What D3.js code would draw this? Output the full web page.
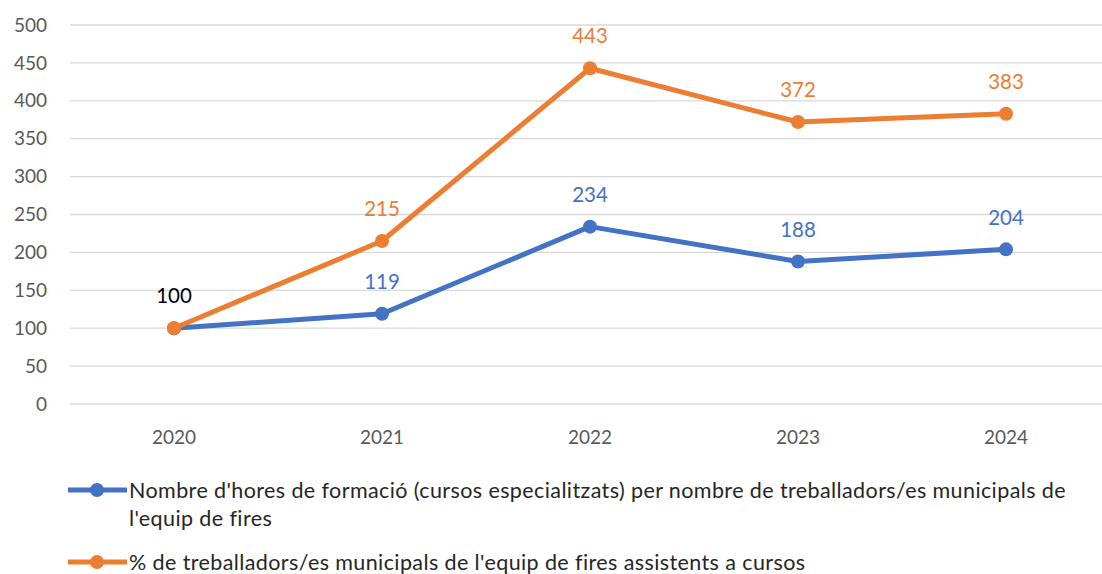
<!DOCTYPE html>
<html>
<head>
<meta charset="utf-8">
<script src="https://cdn.jsdelivr.net/npm/d3@7"></script>
<style>
  body { margin: 0; background: #fff; }
  svg { display: block; font-family: Lato, "Noto Sans", sans-serif; }
</style>
</head>
<body>
<div class="plot"></div>
<script>
var years = ['2020', '2021', '2022', '2023', '2024'];
var hores = [100, 119, 234, 188, 204];
var treballadors = [100, 215, 443, 372, 383];
var yTicks = [0, 50, 100, 150, 200, 250, 300, 350, 400, 450, 500];
var names = [
    "Nombre d'hores de formació (cursos especialitzats) per nombre de treballadors/es municipals de",
    "l'equip de fires"
];
var name2 = "% de treballadors/es municipals de l'equip de fires assistents a cursos";

var W = 1102, H = 574;
var blue = '#4472C4', orange = '#ED7D31';

var svg = d3.select('.plot').append('svg')
    .attr('width', W)
    .attr('height', H);

var x = d3.scaleBand().domain(years).range([70, 1110]);
var y = d3.scaleLinear().domain([0, 500]).range([404, 25]);

// gridlines
svg.append('g')
    .selectAll('line')
    .data(yTicks)
    .enter()
    .append('line')
    .attr('x1', 70)
    .attr('x2', 1110)
    .attr('y1', function(d){return y(d)})
    .attr('y2', function(d){return y(d)})
    .attr('stroke', '#d9d9d9')
    .attr('stroke-width', 1.3);

// y labels
svg.append('g')
    .selectAll('text')
    .data(yTicks)
    .enter()
    .append('text')
    .attr('x', 47)
    .attr('y', function(d){return y(d)})
    .attr('dy', '0.35em')
    .attr('text-anchor', 'end')
    .attr('fill', '#595959')
    .style('font-size', '19px')
    .text(function(d){return d});

// x labels
svg.append('g')
    .selectAll('text')
    .data(years)
    .enter()
    .append('text')
    .attr('x', function(d){return x(d) + x.bandwidth()/2})
    .attr('y', 437)
    .attr('dy', '0.35em')
    .attr('text-anchor', 'middle')
    .attr('fill', '#595959')
    .style('font-size', '19px')
    .text(function(d){return d});

var line = d3.line()
    .x(function(d,i){return x(years[i]) + x.bandwidth()/2})
    .y(function(d){return y(d)});

function drawSeries(vals, color, labelColors){
    var g = svg.append('g');
    g.append('path')
        .datum(vals)
        .attr('d', line)
        .attr('fill', 'none')
        .attr('stroke', color)
        .attr('stroke-width', 5)
        .attr('stroke-linejoin', 'round');
    g.selectAll('circle')
        .data(vals)
        .enter()
        .append('circle')
        .attr('cx', function(d,i){return x(years[i]) + x.bandwidth()/2})
        .attr('cy', function(d){return y(d)})
        .attr('r', 7)
        .attr('fill', color);
    g.selectAll('text')
        .data(vals)
        .enter()
        .append('text')
        .attr('x', function(d,i){return x(years[i]) + x.bandwidth()/2})
        .attr('y', function(d){return y(d) - 32})
        .attr('dy', '0.35em')
        .attr('text-anchor', 'middle')
        .attr('fill', function(d,i){return labelColors[i]})
        .style('font-size', '20.5px')
        .text(function(d){return d});
}

drawSeries(hores, blue, ['none', blue, blue, blue, blue]);
drawSeries(treballadors, orange, ['#000', orange, orange, orange, orange]);

// legend
function legendKey(cy, color){
    svg.append('line')
        .attr('x1', 68).attr('x2', 127)
        .attr('y1', cy).attr('y2', cy)
        .attr('stroke', color).attr('stroke-width', 5);
    svg.append('circle')
        .attr('cx', 97).attr('cy', cy).attr('r', 7)
        .attr('fill', color);
}
legendKey(490, blue);
legendKey(562, orange);

function legendText(ty, txt){
    svg.append('text')
        .attr('x', 129).attr('y', ty).attr('dy', '0.35em')
        .attr('fill', '#262626')
        .style('font-size', '21.5px')
        .style('letter-spacing', '0.4px')
        .text(txt);
}
legendText(490, names[0]);
legendText(518, names[1]);
legendText(562, name2);
</script>
</body>
</html>
